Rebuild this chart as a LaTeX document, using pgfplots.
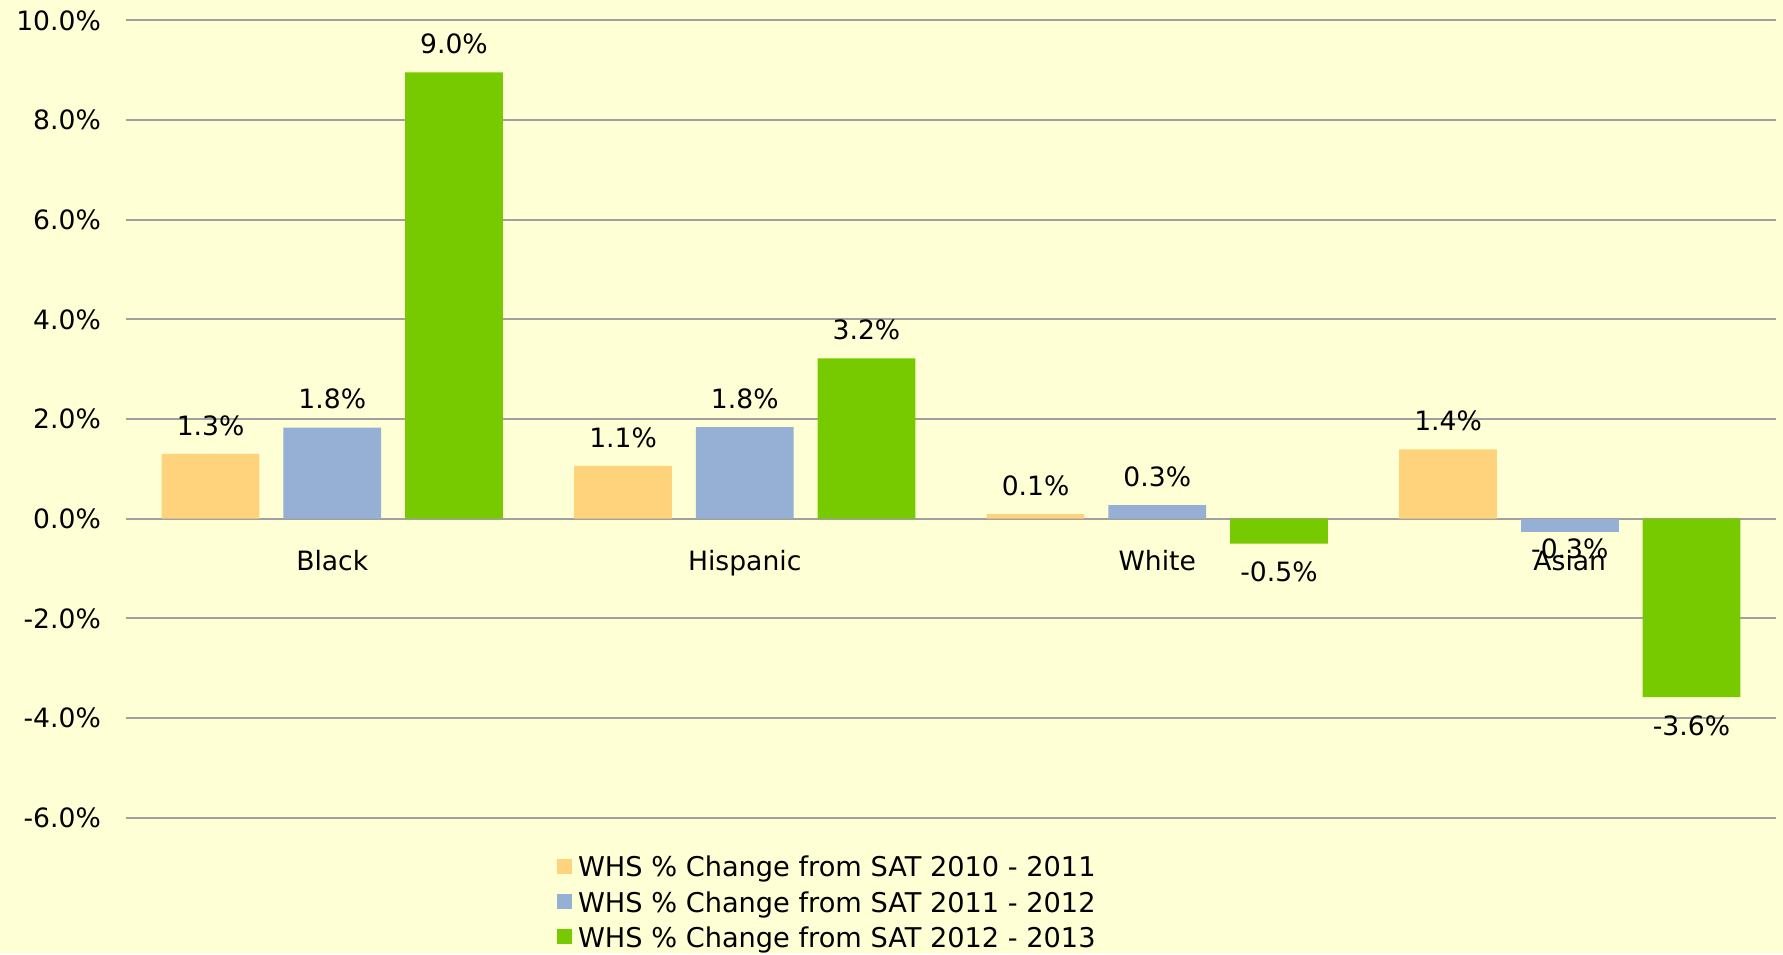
\documentclass[border=0pt]{standalone}
\usepackage{fontspec}
\setmainfont{DejaVu Sans}
\usepackage{pgfplots}
\pgfplotsset{compat=1.18}
\definecolor{bgc}{HTML}{FFFFD6}
\definecolor{c1}{HTML}{FFD37B}
\definecolor{c2}{HTML}{95AFD5}
\definecolor{c3}{HTML}{77C900}
\definecolor{gridc}{HTML}{A0A0A0}
\newcommand\lbl{\fontsize{13.3}{16}\selectfont}
\newcommand\leg{\fontsize{13.6}{16}\selectfont}

\begin{document}
\begin{tikzpicture}
\fill[bgc] (-63pt,-68.2pt) rectangle (828.5pt,408.8pt);
\begin{axis}[
  at={(0,0)}, anchor=south west,
  scale only axis, width=825pt, height=398.55pt,
  xmin=-0.5, xmax=3.5, ymin=-6, ymax=10,
  ybar, bar width=0.237,
  xtick=\empty,
  ytick={-6,-4,...,10},
  yticklabels={-6.0\%,-4.0\%,-2.0\%,0.0\%,2.0\%,4.0\%,6.0\%,8.0\%,10.0\%},
  yticklabel style={font=\lbl, inner sep=0pt, xshift=-12.4pt},
  major tick length=0pt,
  ymajorgrids, grid style={gridc, line width=1pt},
  axis line style={draw=none},
  clip=false,
  nodes near coords={\pgfmathprintnumber[fixed,fixed zerofill,precision=1,assume math mode=true]{\pgfplotspointmeta}\%},
  nodes near coords style={font=\lbl, inner xsep=0pt, inner ysep=9pt},
  legend style={draw=none, fill=none, inner sep=0pt, at={(0.261,-0.048)}, anchor=north west,
    font=\leg, nodes={inner sep=0pt}, cells={anchor=base west}, row sep=5.75pt, column sep=3pt},
  legend image code/.code={\fill[#1] (0pt,1.5pt) rectangle (7.5pt,9pt);},
]
\addplot[fill=c1, draw=none, bar shift=-0.295] coordinates {(0,1.30) (1,1.06) (2,0.09) (3,1.39)};
\addplot[fill=c2, draw=none, bar shift=0] coordinates {(0,1.83) (1,1.84) (2,0.27)};
\addplot[fill=c3, draw=none, bar shift=0.295] coordinates {(0,8.96) (1,3.22) (2,-0.50) (3,-3.58)};
% the Asian 2011-2012 bar: its label sits closer to the bar in the original
\addplot[forget plot, fill=c2, draw=none, bar shift=0, nodes near coords style={inner ysep=3pt}] coordinates {(3,-0.27)};
\legend{WHS \% Change from SAT 2010 - 2011, WHS \% Change from SAT 2011 - 2012, WHS \% Change from SAT 2012 - 2013}
\node[font=\lbl, anchor=base, yshift=-25.7pt] at (axis cs:0,0) {Black};
\node[font=\lbl, anchor=base, yshift=-25.7pt] at (axis cs:1,0) {Hispanic};
\node[font=\lbl, anchor=base, yshift=-25.7pt] at (axis cs:2,0) {White};
\node[font=\lbl, anchor=base, yshift=-25.7pt] at (axis cs:3,0) {Asian};
\end{axis}
\pgfresetboundingbox
\path (-63pt,-68.2pt) rectangle (828.5pt,408.8pt);
\end{tikzpicture}
\end{document}
